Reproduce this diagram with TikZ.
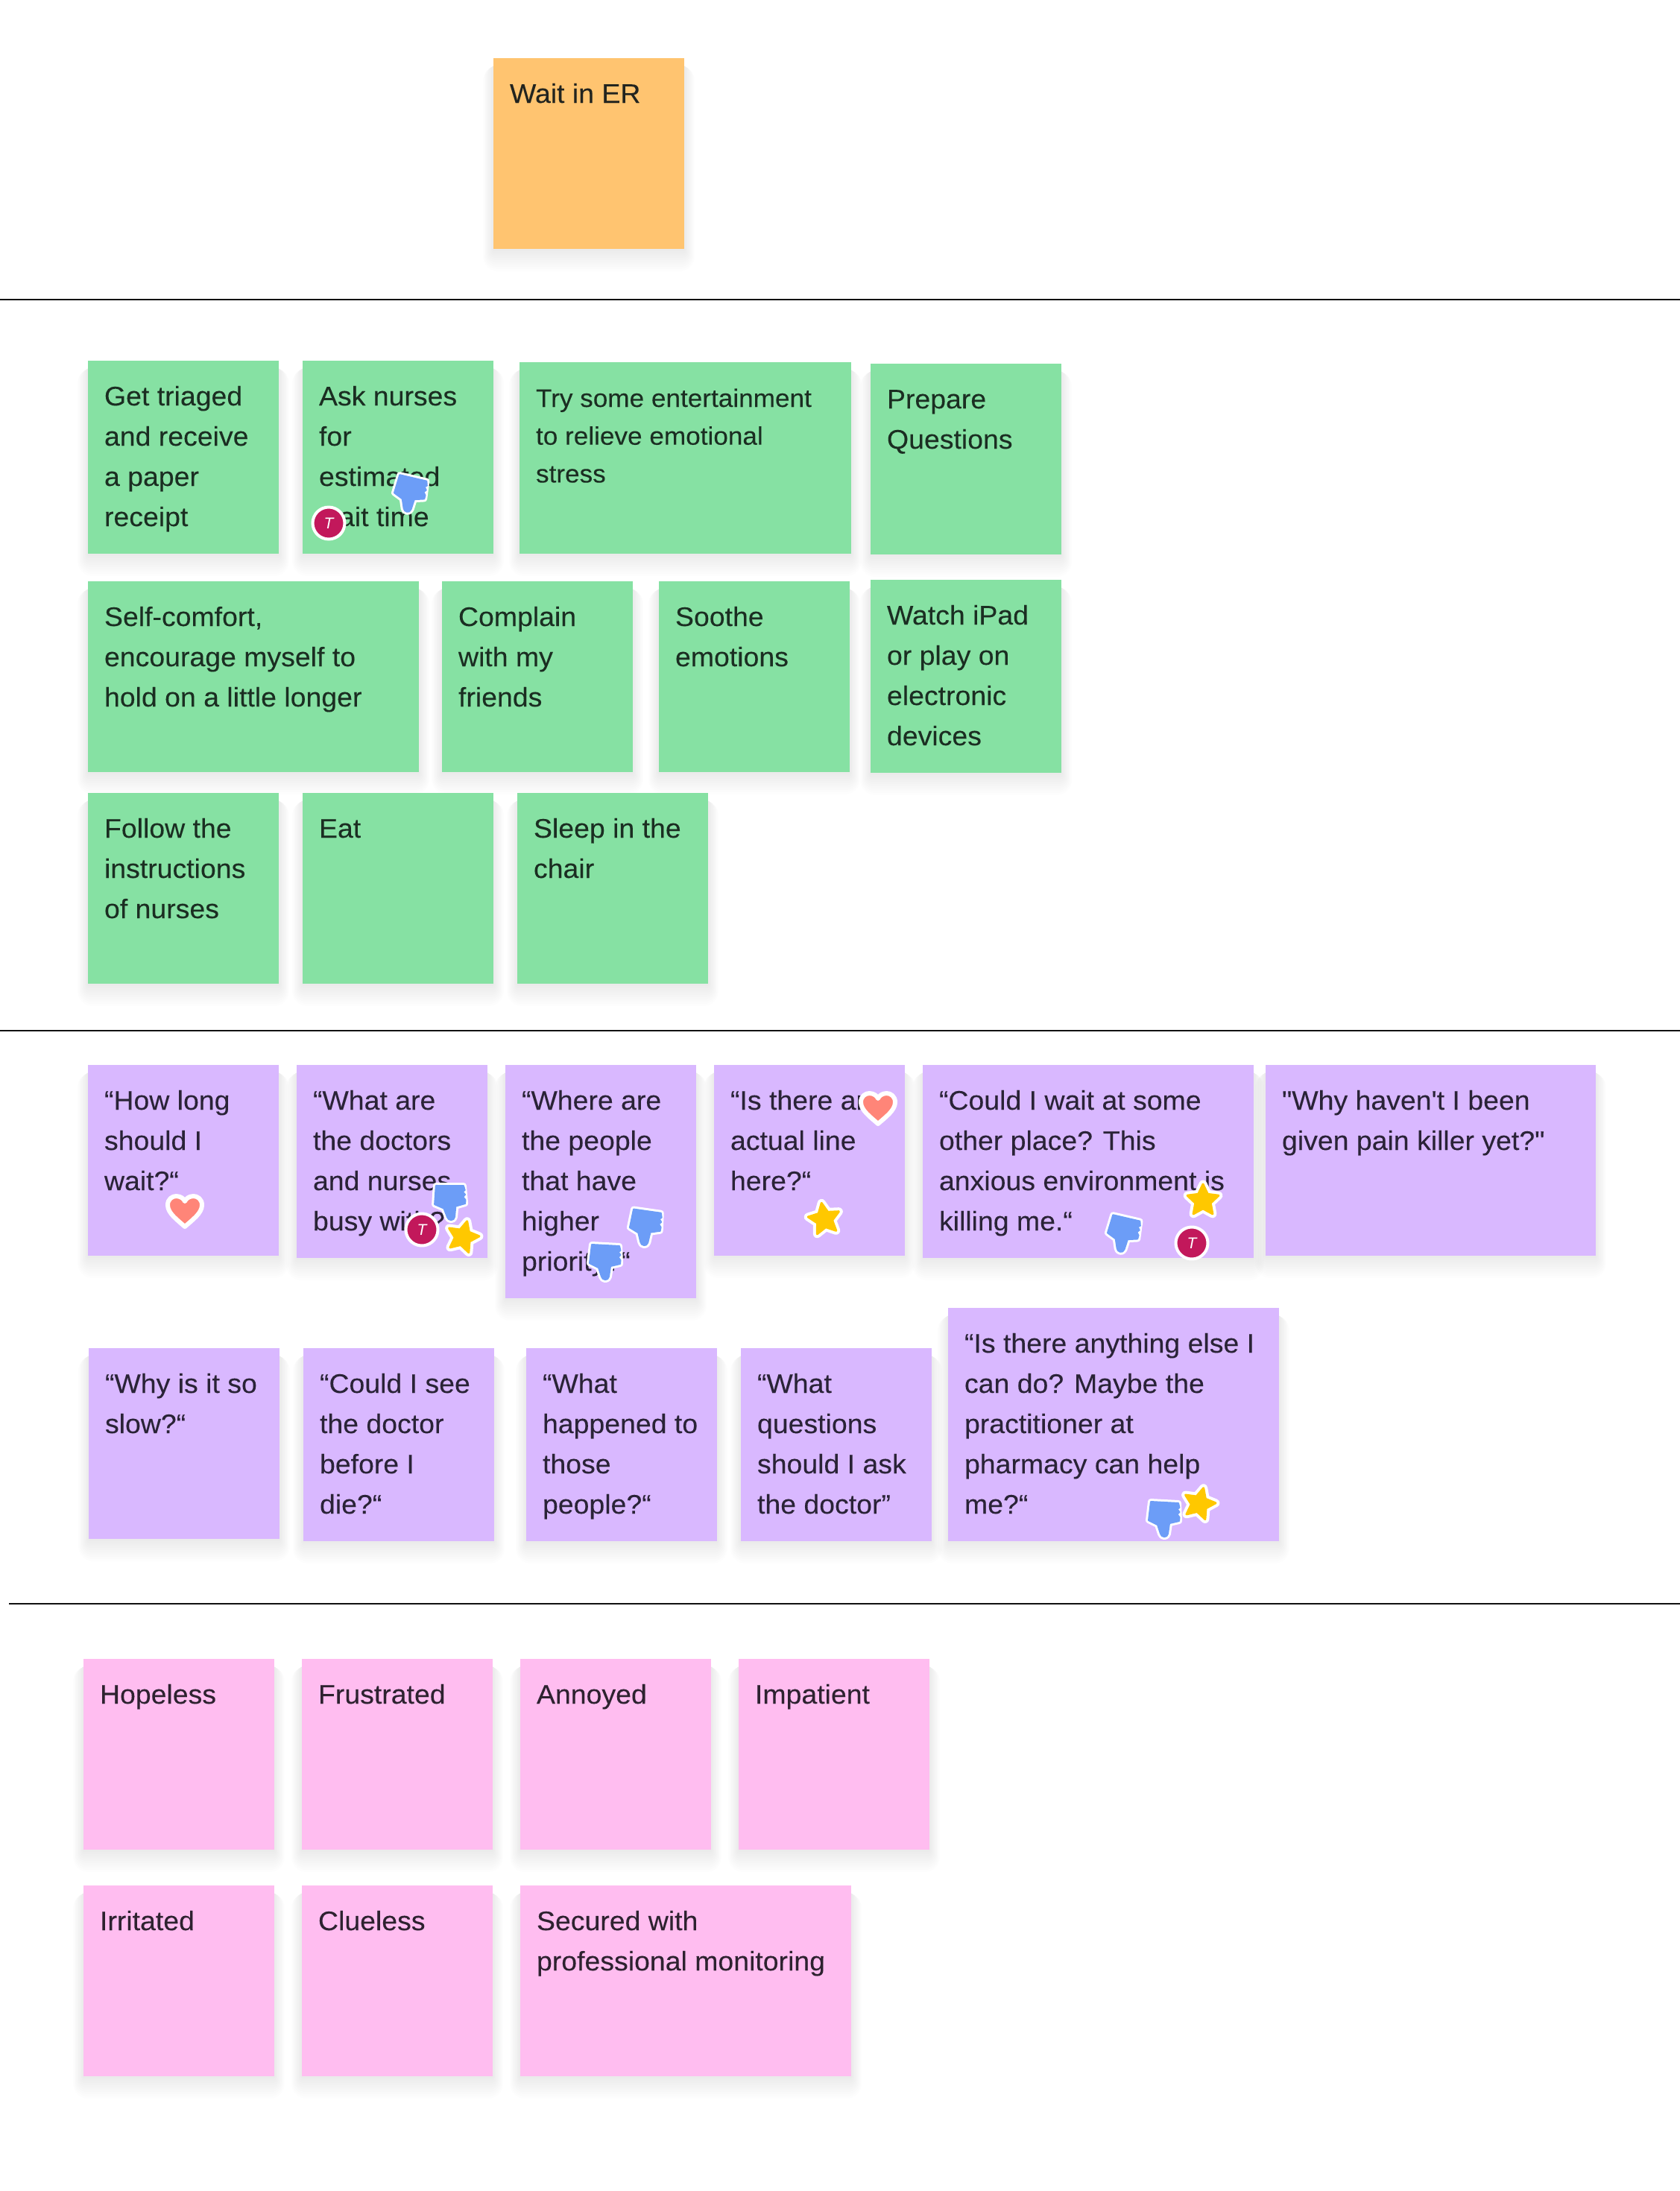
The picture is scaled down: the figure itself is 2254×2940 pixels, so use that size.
\documentclass[tikz,border=0pt]{standalone}
\usepackage{fontspec}
\newfontfamily\stickyfont[FakeStretch=1.04,FakeBold=0.12]{Liberation Sans}
\newfontfamily\avatarfont[ItalicFont=*-Italic]{Liberation Sans}
\definecolor{green}{HTML}{86E1A3}\definecolor{greentext}{HTML}{1B2E22}
\definecolor{purple}{HTML}{D9B8FF}\definecolor{purpletext}{HTML}{2A2337}
\definecolor{pink}{HTML}{FFBDF0}\definecolor{pinktext}{HTML}{2E2230}
\definecolor{orange}{HTML}{FFC470}\definecolor{orangetext}{HTML}{22241F}
\definecolor{thumbblue}{HTML}{6C9DF7}\definecolor{stargold}{HTML}{FFC800}
\definecolor{heartred}{HTML}{FF8578}\definecolor{avatarred}{HTML}{C2185B}
\definecolor{rulecol}{HTML}{111111}
\tikzset{
  stickybox/.style={inner sep=0pt,outer sep=0pt,draw=none},
  stickytext/.style={inner sep=0pt,outer sep=0pt},
  rulestyle/.style={draw=rulecol,line width=1.6pt},
  thumbdown/.pic={
    \path[fill=white,draw=white,line width=8pt,line join=round]
      (-18,-23) -- (19,-21) -- (20,3) -- (7,6) -- (5,20) .. controls (4,26) and (-4,25) .. (-5,20) -- (-9,8) -- (-21,2) -- cycle;
    \path[fill=thumbblue,draw=thumbblue,line width=2pt,line join=round]
      (-18,-23) -- (19,-21) -- (20.5,-15) -- (17.5,-13) -- (20.5,-9) -- (17.5,-6) -- (20.5,-2) -- (20,3) -- (7,6) -- (5,20) .. controls (4,26) and (-4,25) .. (-5,20) -- (-9,8) -- (-21,2) -- cycle;
  },
  goldstar/.pic={
    \path[fill=white,draw=white,line width=11pt,line join=round]
      (0,-22)--(6.3,-8.7)--(20.9,-6.8)--(10.2,3.3)--(12.9,17.8)--(0,10.8)--(-12.9,17.8)--(-10.2,3.3)--(-20.9,-6.8)--(-6.3,-8.7)--cycle;
    \path[fill=stargold,draw=stargold,line width=3pt,line join=round]
      (0,-22)--(6.3,-8.7)--(20.9,-6.8)--(10.2,3.3)--(12.9,17.8)--(0,10.8)--(-12.9,17.8)--(-10.2,3.3)--(-20.9,-6.8)--(-6.3,-8.7)--cycle;
  },
  redheart/.pic={
    \path[fill=heartred,draw=white,line width=6pt,line join=round]
      (0,21) .. controls (-10,12) and (-23,3) .. (-23,-8) .. controls (-23,-16) and (-17,-20) .. (-11.5,-20)
      .. controls (-5.5,-20) and (-1,-16) .. (0,-13) .. controls (1,-16) and (5.5,-20) .. (11.5,-20)
      .. controls (17,-20) and (23,-16) .. (23,-8) .. controls (23,3) and (10,12) .. (0,21) -- cycle;
  },
  useravatar/.pic={
    \path[fill=avatarred,draw=white,line width=4pt] (0,0) circle[radius=21.5];
    \node[text=white,inner sep=0pt,font=\avatarfont\fontsize{21}{21}\selectfont\itshape] at (0,0) {T};
  }
}
\newcommand\stxt[2]{\vtop{\baselineskip=#1pt\lineskiplimit=-100pt\relax #2}}
\newcommand\li[1]{\hbox{#1}}
% [size]{name}{colour}{x1}{y1}{x2}{y2}{lines}
\newcommand\sticky[8][36]{%
  \foreach \k in {1,...,10}{\fill[black,opacity=.008,rounded corners=2pt*\k] (#4-1.4*\k,#5+10) rectangle (#6+1.4*\k,#7+3*\k);}
  \pgfmathsetmacro\sw{#6-#4}\pgfmathsetmacro\sh{#7-#5}\pgfmathsetmacro\sb{#1*1.5}%
  \node[stickybox,fill=#3,minimum width=\sw pt,minimum height=\sh pt,anchor=north west] (#2) at (#4,#5) {};
  \node[stickytext,anchor=base west,text=#3text,font=\stickyfont\fontsize{#1}{#1}\selectfont] (#2t) at (#4+22,#5+60) {\stxt{\sb}{#8}};
}
\begin{document}
\begin{tikzpicture}[x=1pt,y=-1pt]
\useasboundingbox[fill=white] (0,0) rectangle (2254,2940);
\coordinate (a1) at (0,402);\coordinate (b1) at (2254,402);
\coordinate (a2) at (0,1383);\coordinate (b2) at (2254,1383);
\coordinate (a3) at (12,2152);\coordinate (b3) at (2254,2152);
\draw[rulestyle] (a1)--(b1);\draw[rulestyle] (a2)--(b2);\draw[rulestyle] (a3)--(b3);
\sticky{wait}{orange}{662}{78}{918}{334}{\li{Wait in ER}}
% green
\sticky{triaged}{green}{118}{484}{374}{743}{\li{Get triaged}\li{and receive}\li{a paper}\li{receipt}}
\sticky{asknurses}{green}{406}{484}{662}{743}{\li{Ask nurses}\li{for}\li{estimated}\li{wait time}}
\sticky[33.8]{entertain}{green}{697}{486}{1142}{743}{\li{Try some entertainment}\li{to relieve emotional}\li{stress}}
\sticky{prepare}{green}{1168}{488}{1424}{744}{\li{Prepare}\li{Questions}}
\sticky{comfort}{green}{118}{780}{562}{1036}{\li{Self-comfort,}\li{encourage myself to}\li{hold on a little longer}}
\sticky{complain}{green}{593}{780}{849}{1036}{\li{Complain}\li{with my}\li{friends}}
\sticky{soothe}{green}{884}{780}{1140}{1036}{\li{Soothe}\li{emotions}}
\sticky{ipad}{green}{1168}{778}{1424}{1037}{\li{Watch iPad}\li{or play on}\li{electronic}\li{devices}}
\sticky{follow}{green}{118}{1064}{374}{1320}{\li{Follow the}\li{instructions}\li{of nurses}}
\sticky{eat}{green}{406}{1064}{662}{1320}{\li{Eat}}
\sticky{sleep}{green}{694}{1064}{950}{1320}{\li{Sleep in the}\li{chair}}
% purple
\sticky{howlong}{purple}{118}{1429}{374}{1685}{\li{“How long}\li{should I}\li{wait?“}}
\sticky{whatare}{purple}{398}{1429}{654}{1688}{\li{“What are}\li{the doctors}\li{and nurses}\li{busy with?“}}
\sticky{whereare}{purple}{678}{1429}{934}{1742}{\li{“Where are}\li{the people}\li{that have}\li{higher}\li{priority?“}}
\sticky{isthere}{purple}{958}{1429}{1214}{1685}{\li{“Is there an}\li{actual line}\li{here?“}}
\sticky{couldwait}{purple}{1238}{1429}{1682}{1688}{\li{“Could I wait at some}\li{other place? This}\li{anxious environment is}\li{killing me.“}}
\sticky{painkiller}{purple}{1698}{1429}{2141}{1685}{\li{"Why haven't I been}\li{given pain killer yet?"}}
\sticky{slow}{purple}{119}{1809}{375}{2065}{\li{“Why is it so}\li{slow?“}}
\sticky{couldsee}{purple}{407}{1809}{663}{2068}{\li{“Could I see}\li{the doctor}\li{before I}\li{die?“}}
\sticky{happened}{purple}{706}{1809}{962}{2068}{\li{“What}\li{happened to}\li{those}\li{people?“}}
\sticky{questions}{purple}{994}{1809}{1250}{2068}{\li{“What}\li{questions}\li{should I ask}\li{the doctor”}}
\sticky{anything}{purple}{1272}{1755}{1716}{2068}{\li{“Is there anything else I}\li{can do? Maybe the}\li{practitioner at}\li{pharmacy can help}\li{me?“}}
% pink
\sticky{hopeless}{pink}{112}{2226}{368}{2482}{\li{Hopeless}}
\sticky{frustrated}{pink}{405}{2226}{661}{2482}{\li{Frustrated}}
\sticky{annoyed}{pink}{698}{2226}{954}{2482}{\li{Annoyed}}
\sticky{impatient}{pink}{991}{2226}{1247}{2482}{\li{Impatient}}
\sticky{irritated}{pink}{112}{2530}{368}{2786}{\li{Irritated}}
\sticky{clueless}{pink}{405}{2530}{661}{2786}{\li{Clueless}}
\sticky{secured}{pink}{698}{2530}{1142}{2786}{\li{Secured with}\li{professional monitoring}}
% stickers
\pic[rotate=-10] at (550,663) {thumbdown};
\pic at (441,702) {useravatar};
\pic[rotate=3] at (604,1613) {thumbdown};
\pic[rotate=-15] at (621,1660) {goldstar};
\pic[rotate=-5] at (566,1650) {useravatar};
\pic[rotate=-5] at (866,1647) {thumbdown};
\pic at (812,1693) {thumbdown};
\pic at (248,1625) {redheart};
\pic at (1178,1487) {redheart};
\pic[rotate=10] at (1106,1636) {goldstar};
\pic at (1614,1611) {goldstar};
\pic[rotate=-10] at (1507,1656) {thumbdown};
\pic[rotate=5] at (1599,1668) {useravatar};
\pic at (1562,2038) {thumbdown};
\pic[rotate=-15] at (1609,2018) {goldstar};
\end{tikzpicture}
\end{document}
